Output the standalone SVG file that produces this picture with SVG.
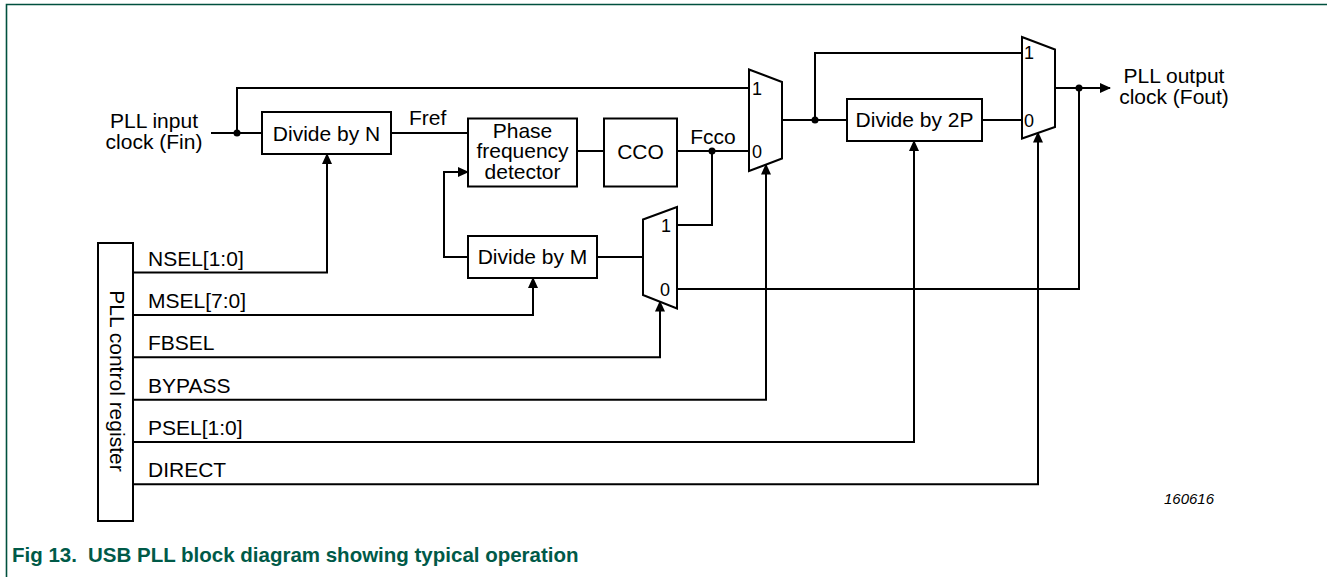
<svg xmlns="http://www.w3.org/2000/svg" width="1327" height="577" viewBox="0 0 1327 577">
<style>
text{font-family:"Liberation Sans",Arial,sans-serif;font-size:21px;fill:#000}
.c{text-anchor:middle}
.sm{font-size:18px}
.box{fill:#fff;stroke:#000;stroke-width:2}
.w{fill:none;stroke:#000;stroke-width:2}
.a{marker-end:url(#arr)}
.dot{fill:#000}
.cap{font-weight:bold;font-size:20.5px;fill:#005a48}
</style>
<defs>
<marker id="arr" viewBox="0 0 11 10" refX="10" refY="5" markerWidth="11" markerHeight="10" markerUnits="userSpaceOnUse" orient="auto">
<path d="M0,0 L11,5 L0,10 z" fill="#000"/>
</marker>
</defs>
<rect width="1327" height="577" fill="#fff"/>
<path d="M6.5,577 V4.5 H1327" fill="none" stroke="#00503e" stroke-width="1.6"/>

<g id="connectors">
<path class="w" d="M211,133 H262"/>
<path class="w" d="M237,133 V88 H749"/>
<path class="w" d="M391,133 H468"/>
<path class="w" d="M577,151 H604"/>
<path class="w" d="M677,151 H749"/>
<path class="w" d="M712,151 V225 H677"/>
<path class="w" d="M782,120 H847"/>
<path class="w" d="M815,120 V53 H1022"/>
<path class="w" d="M982,120 H1022"/>
<path class="w a" d="M1055,88 H1110"/>
<path class="w" d="M1079,88 V289 H677"/>
<path class="w a" d="M468,257 H444 V172 H468"/>
<path class="w" d="M597,257 H643"/>
<path class="w a" d="M133,272.5 H327 V154"/>
<path class="w a" d="M133,315 H533 V278"/>
<path class="w a" d="M133,357.3 H660 V301.5"/>
<path class="w a" d="M133,399.7 H766 V164.5"/>
<path class="w a" d="M133,442 H914 V141"/>
<path class="w a" d="M133,484.3 H1038 V132.5"/>
<circle class="dot" cx="237" cy="133" r="3.5"/>
<circle class="dot" cx="712" cy="151" r="3.5"/>
<circle class="dot" cx="815" cy="120" r="3.5"/>
<circle class="dot" cx="1079" cy="88" r="3.5"/>
</g>

<g id="input-label">
<text class="c" x="154" y="127.5">PLL input</text>
<text class="c" x="154" y="149">clock (Fin)</text>
</g>
<g id="divide-n">
<rect class="box" x="262" y="112" width="129" height="42"/>
<text class="c" x="326.5" y="140.5">Divide by N</text>
</g>
<g id="fref-label"><text x="409" y="125">Fref</text></g>
<g id="pfd">
<rect class="box" x="468" y="118.5" width="109" height="68"/>
<text class="c" x="522.5" y="137.5">Phase</text>
<text class="c" x="522.5" y="158">frequency</text>
<text class="c" x="522.5" y="178.5">detector</text>
</g>
<g id="cco">
<rect class="box" x="604" y="118.5" width="73" height="68"/>
<text class="c" x="640.5" y="158.5">CCO</text>
</g>
<g id="fcco-label"><text class="c" x="713" y="144">Fcco</text></g>
<g id="mux-bypass">
<path class="box" d="M749,69.5 L782,82 V158.5 L749,171 Z"/>
<text class="c sm" x="757" y="95">1</text>
<text class="c sm" x="757" y="157.5">0</text>
</g>
<g id="divide-2p">
<rect class="box" x="847" y="99" width="135" height="42"/>
<text class="c" x="914.5" y="127">Divide by 2P</text>
</g>
<g id="mux-direct">
<path class="box" d="M1022,37 L1055,49.5 V127 L1022,138.5 Z"/>
<text class="c sm" x="1029" y="59">1</text>
<text class="c sm" x="1029" y="126.5">0</text>
</g>
<g id="output-label">
<text class="c" x="1174" y="82.5">PLL output</text>
<text class="c" x="1174" y="104">clock (Fout)</text>
</g>
<g id="divide-m">
<rect class="box" x="468" y="236" width="129" height="42"/>
<text class="c" x="532.5" y="264">Divide by M</text>
</g>
<g id="mux-fbsel">
<path class="box" d="M643,219.5 L677,207 V308.5 L643,295 Z"/>
<text class="c sm" x="666" y="231.5">1</text>
<text class="c sm" x="665" y="296">0</text>
</g>
<g id="control-register">
<rect class="box" x="98" y="243" width="35" height="278"/>
<text class="c" transform="translate(110,381) rotate(90)">PLL control register</text>
</g>
<g id="signal-labels">
<text x="148" y="265.5">NSEL[1:0]</text>
<text x="148" y="308">MSEL[7:0]</text>
<text x="148" y="350.3">FBSEL</text>
<text x="148" y="392.7">BYPASS</text>
<text x="148" y="435">PSEL[1:0]</text>
<text x="148" y="477.3">DIRECT</text>
</g>
<text x="1164" y="504" style="font-style:italic;font-size:15px">160616</text>
<text class="cap" x="12" y="562">Fig 13.</text>
<text class="cap" x="88" y="562">USB PLL block diagram showing typical operation</text>
</svg>
